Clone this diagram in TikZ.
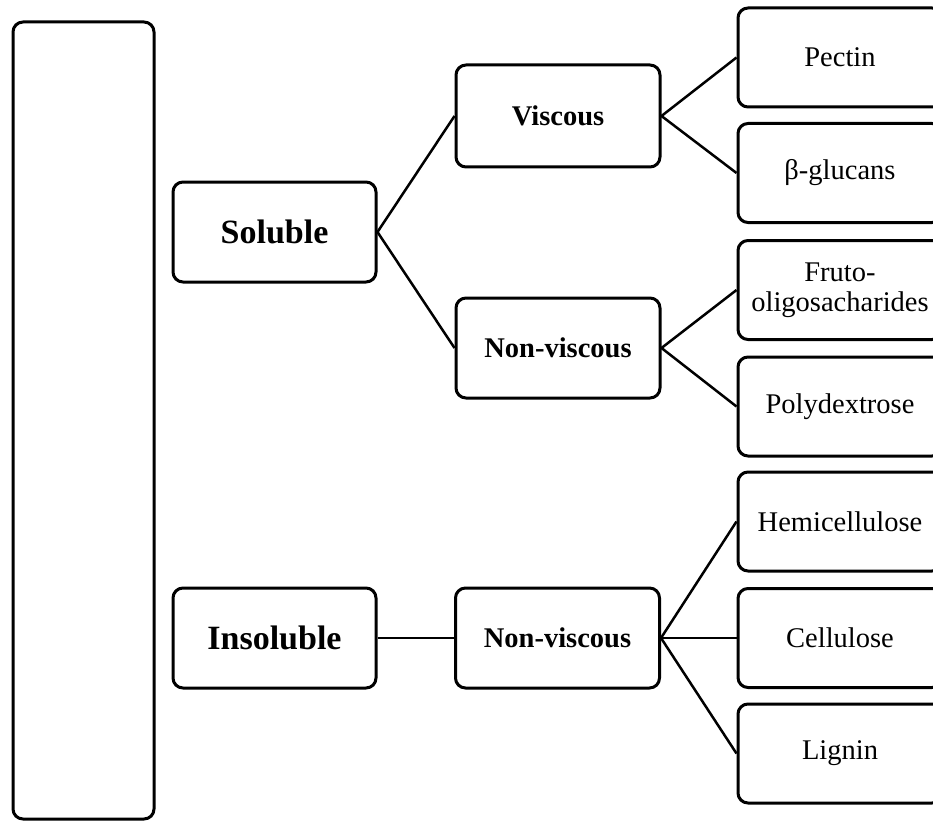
\documentclass[tikz,border=0pt]{standalone}
\usepackage{fontspec}
\setmainfont{Liberation Serif}
\begin{document}
\begin{tikzpicture}[x=1pt,y=-1pt,
  box/.style={draw, line width=3pt, rounded corners=10pt, inner sep=0pt,
    align=center, minimum width=204pt, minimum height=100pt},
  bigbox/.style={box, minimum width=203pt, font=\fontsize{34}{40}\selectfont\bfseries},
  midbox/.style={box, minimum width=204pt, font=\fontsize{28.5}{32}\selectfont\bfseries},
  leafbox/.style={box, minimum width=204pt, minimum height=99pt, font=\fontsize{28.5}{30}\selectfont},
  link/.style={line width=2.5pt}]
\useasboundingbox (0,0) rectangle (933,821);
\clip (0,0) rectangle (933,821);

% outer frame on the left
\node[box, minimum width=141pt, minimum height=797pt] (frame) at (83.5,420.5) {};

% first level
\node[bigbox] (sol) at (274.5,232) {Soluble};
\node[bigbox] (insol) at (274.5,638) {Insoluble};

% second level
\node[midbox, minimum height=102pt] (visc) at (558,116) {Viscous};
\node[midbox] (nvisc) at (558,348) {Non-viscous};
\node[midbox] (nvisc2) at (557.5,638) {Non-viscous};

% leaves
\node[leafbox] (pectin) at (840,57.5) {Pectin};
\node[leafbox] (glucan) at (840,173) {β-glucans};
\node[leafbox] (fos) at (840,290) {Fruto-\\oligosacharides};
\node[leafbox] (polyd) at (840,406.5) {Polydextrose};
\node[leafbox] (hemi) at (840,521.5) {Hemicellulose};
\node[leafbox] (cell) at (840,638) {Cellulose};
\node[leafbox] (lign) at (840,753.5) {Lignin};

% connectors
\draw[link] (visc.west) -- (sol.east) -- (nvisc.west);
\draw[link] (insol.east) -- (nvisc2.west);
\draw[link] (pectin.west) -- (visc.east) -- (glucan.west);
\draw[link] (fos.west) -- (nvisc.east) -- (polyd.west);
\draw[link] (hemi.west) -- (nvisc2.east) -- (lign.west);
\draw[link] (nvisc2.east) -- (cell.west);
\end{tikzpicture}
\end{document}
